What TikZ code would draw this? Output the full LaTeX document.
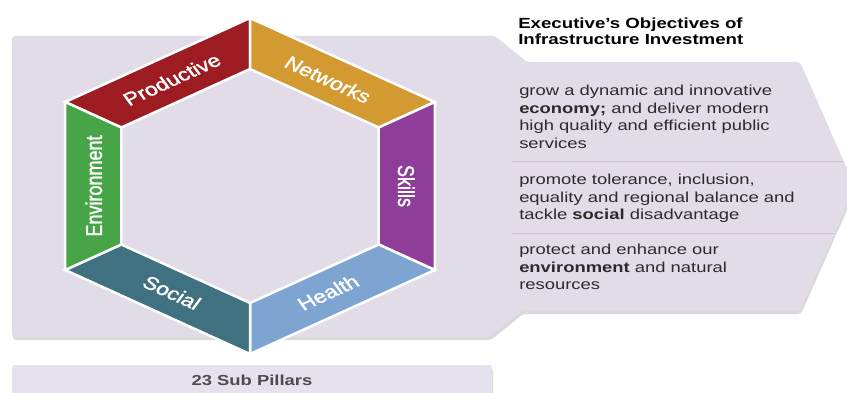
\documentclass[tikz,border=0pt]{standalone}
\usepackage{fontspec}
\setmainfont{Liberation Sans}
\newfontfamily\pillarfont{Liberation Sans}[FakeBold=1.6]
\usetikzlibrary{shadows}

\definecolor{panel}{HTML}{E2DCE8}
\definecolor{subpanel}{HTML}{E6E1EC}
\definecolor{divider}{HTML}{C9C1D2}
\definecolor{ink}{HTML}{2B2B2B}
\definecolor{productive}{HTML}{9C1C22}
\definecolor{networks}{HTML}{D29A30}
\definecolor{skills}{HTML}{8E3D98}
\definecolor{health}{HTML}{7EA4D2}
\definecolor{social}{HTML}{3F7180}
\definecolor{environment}{HTML}{48A547}

\tikzset{
    backdrop/.style = {fill = #1, rounded corners = 3pt,
        drop shadow = {shadow xshift = 1pt, shadow yshift = -3pt, opacity = .3}},
    pillar/.style = {fill = #1, draw = white, line width = 2.5pt, line join = miter},
    pillarlabel/.style = {xscale = 1.27, rotate = #1, text = white, inner sep = 0pt,
        font = \pillarfont\fontsize{18}{20}\selectfont},
    objective/.style = {xscale = 1.27, anchor = base west, align = left, inner sep = 0pt,
        text = ink, font = \fontsize{14.5}{17.5}\selectfont}
}

\begin{document}
\begin{tikzpicture}[x = 1pt, y = 1pt]
    \useasboundingbox (0,0) rectangle (847,392);

    \path[backdrop = panel] (12,356) -- (495,356) -- (527,330) -- (800,330) -- (855,205)
        -- (800,81) -- (522,81) -- (490,55) -- (12,55) -- cycle;
    \path[backdrop = subpanel] (12,27) rectangle (492,-10);

    \begin{scope}[shift = {(250,206)}, xscale = 1.27]
        \foreach \name/\a/\r/\txt in {productive/90/30/Productive, networks/30/-30/Networks,
                skills/-30/-90/Skills, health/270/30/Health, social/210/-30/Social,
                environment/150/90/Environment}{
            \draw[pillar = \name] (\a:168) -- (\a+60:168) -- (\a+60:117) -- (\a:117) -- cycle;
            \node[pillarlabel = \r] (\name) at (\a+30:123) {\txt};
        }
    \end{scope}

    % base anchors sit on the last line of each block
    \node[objective, text = black, font = \bfseries\fontsize{14.7}{16.7}\selectfont]
        (heading) at (518,347) {Executive’s Objectives of\\Infrastructure Investment};
    \node[objective] (economy) at (519,244) {grow a dynamic and innovative\\
        \textbf{economy;} and deliver modern\\high quality and efficient public\\services};
    \node[objective] (society) at (519,172.5) {promote tolerance, inclusion,\\
        equality and regional balance and\\tackle \textbf{social} disadvantage};
    \node[objective] (nature) at (519,102.5) {protect and enhance our\\
        \textbf{environment} and natural\\resources};
    \draw[divider, line width = 1pt] (512,231) -- (843,231);
    \draw[divider, line width = 1pt] (512,159) -- (834,159);

    \node[xscale = 1.27, text = black!70, font = \bfseries\fontsize{14.5}{17}\selectfont]
        (subpillars) at (252,12) {23 Sub Pillars};
\end{tikzpicture}
\end{document}
